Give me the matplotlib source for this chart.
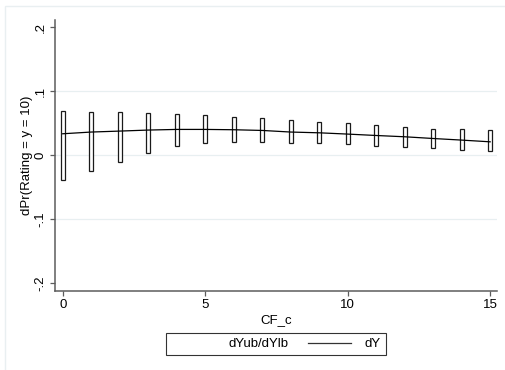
import matplotlib
matplotlib.use("Agg")
import matplotlib.pyplot as plt
import numpy as np
from matplotlib.lines import Line2D
from matplotlib.patches import Patch, Rectangle

plt.rcParams['font.family'] = ['Liberation Sans', 'DejaVu Sans']

# marginal effects of CF_c on Pr(Rating = 10)
cf_c = np.arange(0, 16)
dY = [0.0335, 0.0362, 0.0377, 0.0393, 0.0403, 0.0403, 0.0398, 0.0387,
      0.0362, 0.0350, 0.0330, 0.0308, 0.0288, 0.0261, 0.0236, 0.0209]
dYub = [0.0686, 0.0676, 0.0670, 0.0654, 0.0645, 0.0630, 0.0602, 0.0582,
        0.0555, 0.0513, 0.0497, 0.0465, 0.0445, 0.0414, 0.0403, 0.0387]
dYlb = [-0.0388, -0.0252, -0.0110, 0.0030, 0.0142, 0.0189, 0.0204, 0.0204,
        0.0195, 0.0189, 0.0173, 0.0151, 0.0135, 0.0115, 0.0088, 0.0068]

yticks = [-0.2, -0.1, 0, 0.1, 0.2]
ytick_labels = ['-.2', '-.1', '0', '.1', '.2']
xticks = [0, 5, 10, 15]

fs = 9.5
W, H = 506, 370
fig = plt.figure(figsize=(W / 100, H / 100), dpi=100)
fig.patch.set_facecolor('white')

# faint outer frame of the graph region
fig.patches.append(Rectangle((5 / W, -0.01), 1.02, 1 - 6 / H + 0.01,
                             transform=fig.transFigure, fill=False,
                             edgecolor='#e9eff1', lw=1.0))

ax = fig.add_axes([55 / W, (H - 291) / H, (497 - 55) / W, (291 - 20) / H])

for y in [-0.1, 0, 0.1]:
    ax.axhline(y, color='#e8eff1', lw=0.9, zorder=0)

lo = np.array(dYlb)
hi = np.array(dYub)
ax.bar(cf_c, hi - lo, bottom=lo, width=0.15, facecolor='white',
       edgecolor='#1a1a1a', lw=0.9, zorder=2)
ax.plot(cf_c, dY, color='black', lw=0.9, zorder=3)

ax.set_xlim(-0.27, 15.24)
ax.set_ylim(-0.2125, 0.2115)
ax.set_yticks(yticks)
ax.set_yticklabels(ytick_labels, rotation=90, va='center')
ax.set_xticks(xticks)

for side in ['top', 'right']:
    ax.spines[side].set_visible(False)
for side in ['left', 'bottom']:
    ax.spines[side].set_color('#5c5c5c')
    ax.spines[side].set_linewidth(1.1)

ax.tick_params(axis='both', colors='#5c5c5c', length=3.6, width=0.9,
               labelsize=fs, labelcolor='black', pad=2.5)

ax.set_xlabel('CF_c', fontsize=fs, labelpad=2)
ax.set_ylabel('dPr(Rating = y = 10)', fontsize=fs, labelpad=1)

handles = [Patch(facecolor='white', edgecolor='white'),
           Line2D([0], [0], color='#333333', lw=0.9)]
leg = fig.legend(handles, ['dYub/dYlb', 'dY'], ncol=2, loc='center',
                 bbox_to_anchor=(276 / W, 1 - 344 / H), fontsize=fs,
                 frameon=True, fancybox=False, handlelength=3.3,
                 handletextpad=1.0, columnspacing=1.5, borderpad=0.4)
leg.get_frame().set_edgecolor('black')
leg.get_frame().set_linewidth(0.8)

fig.savefig('out.png', dpi=100, facecolor='white')
